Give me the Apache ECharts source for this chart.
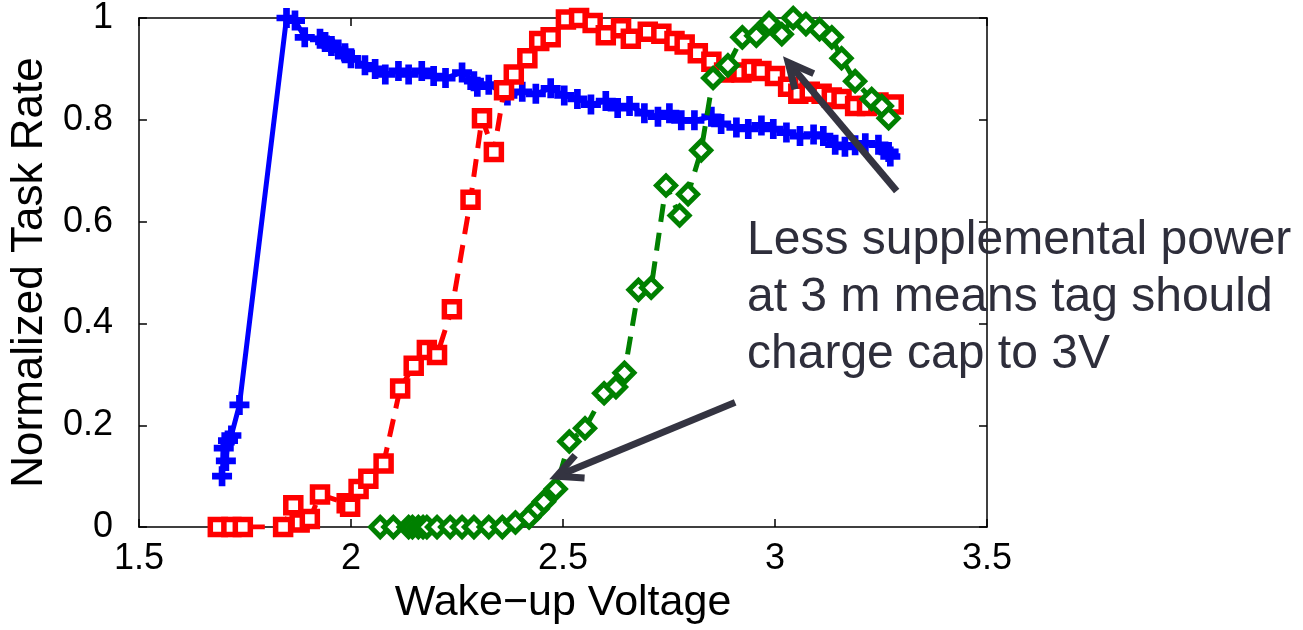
<!DOCTYPE html>
<html>
<head>
<meta charset="utf-8">
<script src="https://cdn.jsdelivr.net/npm/echarts@6/dist/echarts.min.js"></script>
<style>
html,body{margin:0;padding:0;background:#fff;}
#chart{width:1303px;height:630px;}
</style>
</head>
<body>
<div id="chart"></div>
<script>
// ---- data ----
const X_TICKS = [1.5, 2, 2.5, 3, 3.5];
const Y_TICKS = [0, 0.2, 0.4, 0.6, 0.8, 1];

const blueV = [1.696,1.700,1.705,1.710,1.718,1.737,1.848,1.868,1.891,1.927,1.939,1.954,1.970,1.986,2.000,2.033,2.057,2.081,2.112,2.136,2.167,2.195,2.223,2.262,2.290,2.298,2.325,2.369,2.404,2.436,2.471,2.503,2.534,2.566,2.601,2.629,2.657,2.692,2.724,2.751,2.779,2.810,2.850,2.873,2.909,2.937,2.968,2.996,3.027,3.059,3.091,3.114,3.142,3.165,3.189,3.213,3.244,3.268,3.272];
const blueRate = [0.10,0.155,0.13,0.17,0.18,0.24,1.0,0.995,0.962,0.959,0.953,0.945,0.938,0.931,0.921,0.907,0.900,0.889,0.896,0.889,0.896,0.886,0.882,0.893,0.876,0.865,0.869,0.848,0.855,0.851,0.862,0.848,0.841,0.830,0.837,0.823,0.827,0.813,0.806,0.813,0.799,0.799,0.806,0.792,0.785,0.782,0.789,0.782,0.775,0.768,0.771,0.768,0.751,0.747,0.750,0.754,0.751,0.737,0.728];

const redV = [1.686,1.718,1.745,1.840,1.864,1.879,1.903,1.927,1.990,1.998,2.018,2.041,2.077,2.116,2.148,2.179,2.203,2.238,2.282,2.309,2.337,2.361,2.384,2.416,2.444,2.471,2.507,2.538,2.570,2.601,2.637,2.660,2.700,2.732,2.763,2.787,2.818,2.850,2.880,2.921,2.945,2.968,3.000,3.031,3.055,3.082,3.110,3.134,3.157,3.189,3.217,3.244,3.280];
const redRate = [0,0,0,0,0.043,0.009,0.016,0.064,0.047,0.040,0.075,0.095,0.125,0.272,0.317,0.348,0.338,0.428,0.643,0.803,0.737,0.858,0.889,0.921,0.955,0.962,0.997,1.0,0.990,0.966,0.980,0.959,0.973,0.969,0.955,0.948,0.931,0.914,0.893,0.893,0.900,0.896,0.886,0.865,0.851,0.855,0.851,0.844,0.841,0.827,0.827,0.834,0.830];

const greenV = [2.069,2.100,2.136,2.145,2.159,2.170,2.179,2.203,2.234,2.262,2.290,2.325,2.357,2.388,2.420,2.440,2.455,2.483,2.515,2.552,2.597,2.625,2.645,2.678,2.708,2.743,2.775,2.795,2.826,2.854,2.889,2.923,2.956,2.986,3.016,3.043,3.073,3.105,3.134,3.157,3.189,3.228,3.252,3.268];
const greenRate = [0,0,0,0,0,0,0,0,0,0,0,0,0,0.009,0.019,0.036,0.050,0.075,0.168,0.194,0.263,0.275,0.303,0.466,0.470,0.671,0.612,0.654,0.740,0.882,0.907,0.962,0.965,0.990,0.968,1.0,0.988,0.978,0.962,0.921,0.876,0.841,0.827,0.803];

// annotation arrows: tailV, tailRate, headV, headRate (data coordinates)
const arrowLow = [2.906, 0.245, 2.485, 0.100];
const arrowHigh = [3.287, 0.660, 3.031, 0.913];
const NOTE = 'Less supplemental power\nat 3 m means tag should\ncharge cap to 3V';

// ---- chart ----
const zip = (a, b) => a.map((v, i) => [v, b[i]]);
const FONT = '"Liberation Sans", Arial, Helvetica, sans-serif';
const PLUS = 'path://M6,0 H12 V6 H18 V12 H12 V18 H6 V12 H0 V6 H6 Z';
const ARROW_COLOR = '#343441';

const chart = echarts.init(document.getElementById('chart'), null, {renderer: 'canvas'});
const axisLineStyle = {color: '#000', width: 1.5};
const xMin = X_TICKS[0], xMax = X_TICKS[X_TICKS.length - 1], xInt = X_TICKS[1] - X_TICKS[0];
const yMin = Y_TICKS[0], yMax = Y_TICKS[Y_TICKS.length - 1], yInt = Y_TICKS[1] - Y_TICKS[0];

function renderArrow(params, api) {
  const t = api.coord([api.value(0), api.value(1)]);
  const h = api.coord([api.value(2), api.value(3)]);
  const dx = t[0] - h[0], dy = t[1] - h[1];
  const len = Math.sqrt(dx * dx + dy * dy);
  const ux = dx / len, uy = dy / len;
  const ang = 26 * Math.PI / 180, arm = 28;
  const rot = (a) => [h[0] + arm * (ux * Math.cos(a) - uy * Math.sin(a)),
                      h[1] + arm * (ux * Math.sin(a) + uy * Math.cos(a))];
  const a1 = rot(ang), a2 = rot(-ang);
  const st = {stroke: ARROW_COLOR, lineWidth: 7, fill: null, lineJoin: 'miter', lineCap: 'butt'};
  return {
    type: 'group',
    children: [
      {type: 'line', shape: {x1: t[0], y1: t[1], x2: h[0] + ux * 2, y2: h[1] + uy * 2}, style: st},
      {type: 'polyline', shape: {points: [a1, h, a2]}, style: st}
    ]
  };
}

chart.setOption({
  animation: false,
  backgroundColor: '#fff',
  grid: {left: 133, right: 316, top: 17, bottom: 97, containLabel: false},
  xAxis: [{
    type: 'value', min: xMin, max: xMax, interval: xInt, position: 'bottom',
    name: 'Wake\u2212up Voltage', nameLocation: 'middle', nameGap: 54,
    nameTextStyle: {fontFamily: FONT, fontSize: 43, color: '#000'},
    axisLine: {show: true, onZero: false, lineStyle: axisLineStyle},
    axisTick: {show: true, inside: true, length: 8, lineStyle: axisLineStyle},
    axisLabel: {fontFamily: FONT, fontSize: 36, color: '#000', margin: 14, showMinLabel: true, showMaxLabel: true},
    splitLine: {show: false}
  }, {
    type: 'value', min: xMin, max: xMax, interval: xInt, position: 'top',
    axisLine: {show: true, onZero: false, lineStyle: axisLineStyle},
    axisTick: {show: true, inside: true, length: 8, lineStyle: axisLineStyle},
    axisLabel: {show: false}, splitLine: {show: false}
  }],
  yAxis: [{
    type: 'value', min: yMin, max: yMax, interval: yInt, position: 'left',
    name: 'Normalized Task Rate', nameLocation: 'middle', nameGap: 83,
    nameTextStyle: {fontFamily: FONT, fontSize: 44, color: '#000'},
    axisLine: {show: true, onZero: false, lineStyle: axisLineStyle},
    axisTick: {show: true, inside: true, length: 8, lineStyle: axisLineStyle},
    axisLabel: {fontFamily: FONT, fontSize: 36, color: '#000', margin: 26, showMinLabel: true, showMaxLabel: true},
    splitLine: {show: false}
  }, {
    type: 'value', min: yMin, max: yMax, interval: yInt, position: 'right',
    axisLine: {show: true, onZero: false, lineStyle: axisLineStyle},
    axisTick: {show: true, inside: true, length: 8, lineStyle: axisLineStyle},
    axisLabel: {show: false}, splitLine: {show: false}
  }],
  series: [
    {
      type: 'line', name: 'blue', data: zip(blueV, blueRate), z: 3,
      symbol: PLUS, symbolSize: 20, showAllSymbol: true,
      lineStyle: {color: '#0000ff', width: 5},
      itemStyle: {color: '#0000ff', borderWidth: 0}
    },
    {
      type: 'line', name: 'red', data: zip(redV, redRate), z: 4,
      symbol: 'rect', symbolSize: 15, showAllSymbol: true,
      lineStyle: {color: '#ff0000', width: 5, type: [18, 11]},
      itemStyle: {color: '#ffffff', borderColor: '#ff0000', borderWidth: 5.5}
    },
    {
      type: 'line', name: 'green', data: zip(greenV, greenRate), z: 5,
      symbol: 'diamond', symbolSize: 19, showAllSymbol: true,
      lineStyle: {color: '#008000', width: 5, type: [18, 11]},
      itemStyle: {color: '#ffffff', borderColor: '#008000', borderWidth: 5}
    },
    {
      type: 'custom', name: 'arrows', z: 10, silent: true, clip: false,
      renderItem: renderArrow,
      encode: {x: [0, 2], y: [1, 3]},
      data: [arrowLow, arrowHigh]
    }
  ],
  graphic: [{
    type: 'text', left: 747, top: 212, z: 100,
    style: {text: NOTE, fontFamily: FONT, fontSize: 48, lineHeight: 57, fill: '#2e2e3b'}
  }]
});
</script>
</body>
</html>
